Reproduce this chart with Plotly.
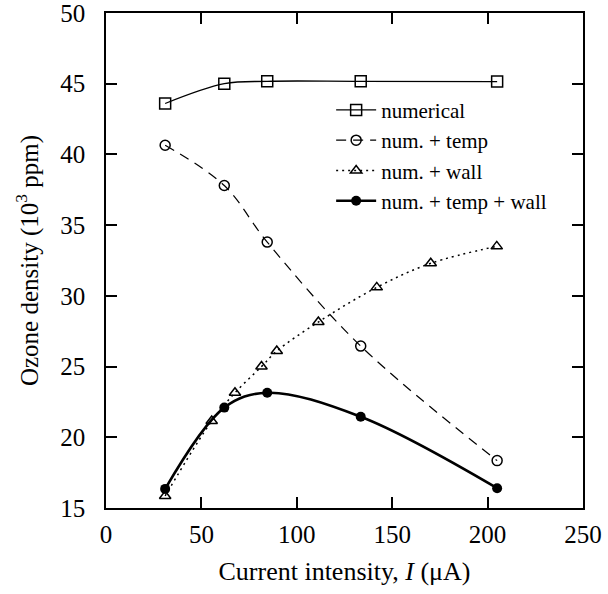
import plotly.graph_objects as go

# Data
current_num = [31, 62, 84.5, 133.5, 205]
ozone_num = [43.6, 45.0, 45.17, 45.17, 45.15]

current_temp = [31, 62, 84.5, 133.5, 205]
ozone_temp = [40.65, 37.8, 33.8, 26.45, 18.35]

current_wall = [31, 55.4, 67.6, 81.5, 89.5, 111.3, 141.9, 170.2, 204.8]
ozone_wall = [15.85, 21.15, 23.15, 25.0, 26.1, 28.15, 30.6, 32.3, 33.5]

current_tw = [31, 62, 84.5, 133.5, 205]
ozone_tw = [16.35, 22.1, 23.15, 21.45, 16.4]

x_ticks = [0, 50, 100, 150, 200, 250]
y_ticks = [15, 20, 25, 30, 35, 40, 45, 50]

FONT = "Liberation Serif, Times New Roman, serif"

fig = go.Figure()
fig.add_trace(go.Scatter(
    x=current_num, y=ozone_num, name="numerical", mode="lines+markers",
    line=dict(color="black", width=1.3, shape="spline"),
    marker=dict(symbol="square-open", size=11, color="black", line=dict(width=1.5))))
fig.add_trace(go.Scatter(
    x=current_temp, y=ozone_temp, name="num. + temp", mode="lines+markers",
    line=dict(color="black", width=1.2, dash="10px,7px", shape="spline"),
    marker=dict(symbol="circle-open", size=10, color="black", line=dict(width=1.5))))
fig.add_trace(go.Scatter(
    x=current_wall, y=ozone_wall, name="num. + wall", mode="lines+markers",
    line=dict(color="black", width=1.5, dash="2px,4px", shape="spline"),
    marker=dict(symbol="triangle-up-open", size=10, color="black", line=dict(width=1.5))))
fig.add_trace(go.Scatter(
    x=current_tw, y=ozone_tw, name="num. + temp + wall", mode="lines+markers",
    line=dict(color="black", width=2.6, shape="spline"),
    marker=dict(symbol="circle", size=10, color="black")))

axis_common = dict(
    showline=True, linecolor="black", linewidth=1.5, mirror="ticks",
    ticks="inside", ticklen=11, tickwidth=1.5, tickcolor="black",
    showgrid=False, zeroline=False, automargin=False,
    ticklabeloverflow="allow",
    tickfont=dict(family=FONT, size=25, color="black"),
)

fig.update_layout(
    template="none",
    width=608, height=594,
    margin=dict(l=106, r=25, t=13, b=86),
    paper_bgcolor="white", plot_bgcolor="white",
    font=dict(family=FONT, color="black"),
    xaxis=dict(range=[0, 250], tickvals=x_ticks, ticklabelstandoff=3,
               title=dict(text="Current intensity, <i>I</i> (μA)",
                          font=dict(family=FONT, size=26), standoff=15),
               **axis_common),
    yaxis=dict(range=[15, 50], tickvals=y_ticks, ticklabelstandoff=14,
               title=dict(text="Ozone density (10<sup>3</sup> ppm)",
                          font=dict(family=FONT, size=25), standoff=15),
               **axis_common),
    legend=dict(x=0.472, y=0.845, xanchor="left", yanchor="top",
                bgcolor="rgba(0,0,0,0)", borderwidth=0,
                font=dict(family=FONT, size=21, color="black"),
                itemwidth=40, tracegroupgap=0),
    showlegend=True,
)

# remove the browser's default 8px body margin so the figure fills the window
fig.write_html("out.html", config={"displayModeBar": False},
               post_script="document.body.style.margin='0px';")
